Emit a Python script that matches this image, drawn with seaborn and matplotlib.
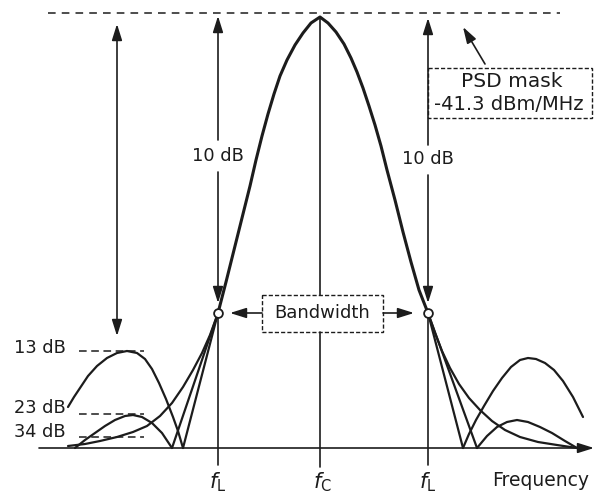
import matplotlib
matplotlib.use('Agg')
import matplotlib.pyplot as plt
import seaborn as sns
from matplotlib.patches import Rectangle

# ---------------- data (x = frequency position, y = depth below top) -------------
main_x = [218, 226, 234, 242, 250, 256, 262, 268, 274, 280, 287, 295, 303, 311, 320,
          328, 336, 344, 351, 357, 363, 369, 375, 381, 387, 395, 403, 411, 419, 428]
main_y = [313, 282, 250, 218, 186, 160, 136, 114, 94, 76, 60, 45, 33, 23, 17,
          23, 32, 44, 58, 72, 88, 106, 125, 146, 170, 200, 232, 262, 290, 313]

# left side skirts from the band-edge point down to the first nulls
left_null_a_x = [218, 172]
left_null_a_y = [313, 448]
left_null_b_x = [218, 183]
left_null_b_y = [313, 448]
left_tail_x = [218, 210, 202, 193, 183, 172, 160, 147, 133, 117, 100, 85, 68]
left_tail_y = [313, 335, 353, 370, 387, 403, 416, 426, 432, 437, 441, 444, 446]

# left sidelobes
lobe13_x = [68, 74, 80, 88, 97, 107, 117, 127, 137, 145, 152, 159, 166, 173, 178, 183]
lobe13_y = [407, 397, 388, 376, 366, 358, 353, 351, 353, 359, 369, 383, 399, 417, 431, 448]
lobe23_x = [75, 85, 95, 105, 115, 125, 133, 142, 152, 162, 172]
lobe23_y = [448, 440, 433, 426, 420, 416, 415, 417, 423, 433, 448]

# right side skirts
right_null_a_x = [428, 463]
right_null_a_y = [313, 448]
right_null_b_x = [428, 477]
right_null_b_y = [313, 448]
right_tail_x = [428, 435, 442, 450, 459, 469, 480, 492, 505, 520, 538, 557, 577]
right_tail_y = [313, 333, 351, 368, 384, 398, 410, 421, 430, 437, 442, 445, 448]

# right sidelobes
rlobe_big_x = [463, 469, 476, 484, 493, 502, 511, 520, 528, 536, 545, 554, 563, 573, 583]
rlobe_big_y = [448, 434, 420, 406, 391, 378, 367, 360, 358, 359, 363, 370, 381, 397, 417]
rlobe_small_x = [477, 487, 497, 507, 517, 528, 540, 552, 565, 577]
rlobe_small_y = [448, 436, 427, 422, 420, 422, 427, 433, 441, 448]

# sidelobe level marks
level_labels = ['13 dB', '23 dB', '34 dB']
level_label_y = [348, 408, 432]
level_dash_y = [351, 414, 437]

edge_freqs = [218, 428]
centre_freq = 320
tick_labels = [r'$f_{\mathrm{L}}$', r'$f_{\mathrm{C}}$', r'$f_{\mathrm{L}}$']
tick_pos = [218, 322, 428]

# ---------------- drawing -------------
sns.set_style('white')
plt.rcParams['font.family'] = ['DejaVu Sans']
plt.rcParams['mathtext.fontset'] = 'dejavusans'

fig = plt.figure(figsize=(5.94, 4.98), dpi=100)
ax = fig.add_axes([0, 0, 1, 1])
ax.set_xlim(0, 594)
ax.set_ylim(498, 0)
ax.axis('off')

INK = '#1c1c1c'


def curve(xs, ys, lw=1.6):
    sns.lineplot(x=xs, y=ys, sort=False, estimator=None, ax=ax,
                 color=INK, lw=lw, legend=False)


curve(main_x, main_y, lw=2.2)
for xs, ys in [(left_null_a_x, left_null_a_y), (left_null_b_x, left_null_b_y),
               (left_tail_x, left_tail_y), (lobe13_x, lobe13_y), (lobe23_x, lobe23_y),
               (right_null_a_x, right_null_a_y), (right_null_b_x, right_null_b_y),
               (right_tail_x, right_tail_y), (rlobe_big_x, rlobe_big_y),
               (rlobe_small_x, rlobe_small_y)]:
    curve(xs, ys, lw=1.6)

ARW = dict(arrowstyle='-|>,head_length=0.7,head_width=0.22', color=INK, lw=1.2,
           shrinkA=0, shrinkB=0, mutation_scale=14)
DARW = dict(arrowstyle='<|-|>,head_length=0.7,head_width=0.22', color=INK, lw=1.2,
            shrinkA=0, shrinkB=0, mutation_scale=14)

# frequency axis with arrow
ax.annotate('', xy=(594, 448), xytext=(39, 448), arrowprops=ARW)

# top PSD mask dashed line
ax.plot([48, 560], [13, 13], color=INK, lw=1.1, ls=(0, (5, 4)))

# big left double arrow
ax.annotate('', xy=(117, 24), xytext=(117, 336), arrowprops=DARW)

# band edge verticals with 10 dB arrows
for fx, top, lab_y, gap_top, gap_bot in [(218, 16, 156, 140, 172), (428, 18, 159, 145, 175)]:
    ax.annotate('', xy=(fx, top), xytext=(fx, gap_top), arrowprops=ARW)
    ax.annotate('', xy=(fx, 303), xytext=(fx, gap_bot), arrowprops=ARW)
    ax.plot([fx, fx], [318, 465], color=INK, lw=1.2)
    ax.text(fx, lab_y, '10 dB', ha='center', va='center', fontsize=12.8, color=INK)

# band-edge circles
sns.scatterplot(x=edge_freqs, y=[313, 313], ax=ax, s=40, facecolor='white',
                edgecolor=INK, linewidth=1.3, zorder=5, legend=False)

# centre line broken by the bandwidth box
ax.plot([centre_freq, centre_freq], [17, 295], color=INK, lw=1.2)
ax.plot([centre_freq, centre_freq], [332, 467], color=INK, lw=1.2)

# bandwidth box and arrows
ax.add_patch(Rectangle((262, 295), 121, 37, fill=False, ec=INK, lw=1.0, ls=(0, (3, 1.5))))
ax.text(322, 313, 'Bandwidth', ha='center', va='center', fontsize=13, color=INK)
ax.annotate('', xy=(230, 313), xytext=(262, 313), arrowprops=ARW)
ax.annotate('', xy=(414, 313), xytext=(383, 313), arrowprops=ARW)

# PSD mask box
ax.add_patch(Rectangle((428, 68), 164, 50, fill=False, ec=INK, lw=1.0, ls=(0, (3, 1.5))))
ax.text(512, 81, 'PSD mask', ha='center', va='center', fontsize=14.5, color=INK)
ax.text(509, 104, '-41.3 dBm/MHz', ha='center', va='center', fontsize=14, color=INK)
ax.annotate('', xy=(463, 27), xytext=(485, 64), arrowprops=ARW)

# sidelobe level labels and dashes
for lab, ly, dy in zip(level_labels, level_label_y, level_dash_y):
    ax.text(66, ly, lab, ha='right', va='center', fontsize=12.8, color=INK)
    ax.plot([79, 144], [dy, dy], color=INK, lw=1.1, ls=(0, (5, 3)))

# tick labels
for tx, tl in zip(tick_pos, tick_labels):
    ax.text(tx, 482, tl, ha='center', va='center', fontsize=15, color=INK)
ax.text(541, 480, 'Frequency', ha='center', va='center', fontsize=13.5, color=INK)

fig.savefig('out.png', dpi=100, facecolor='white')
